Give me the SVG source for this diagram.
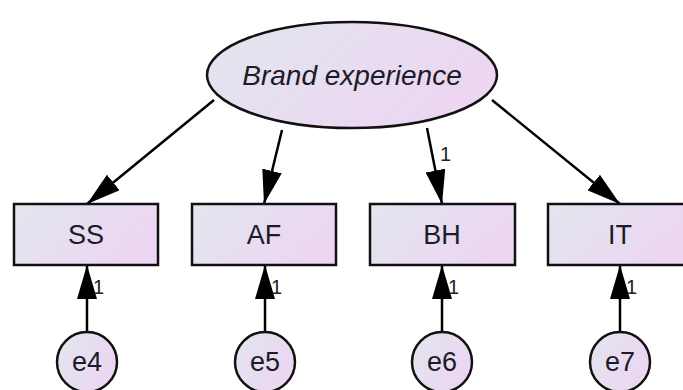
<svg xmlns="http://www.w3.org/2000/svg" width="683" height="390" viewBox="0 0 683 390">
  <defs>
    <linearGradient id="fill" x1="0" y1="0" x2="1" y2="0.4">
      <stop offset="0" stop-color="#e2e6ee"/>
      <stop offset="1" stop-color="#ecd6f2"/>
    </linearGradient>
    <marker id="head" viewBox="0 0 34 20" refX="34" refY="10" markerWidth="34" markerHeight="20" markerUnits="userSpaceOnUse" orient="auto">
      <path d="M0,0 L34,10 L0,20 Z" fill="#000"/>
    </marker>
  </defs>
  <style>
    .shape { fill: url(#fill); stroke: #111; stroke-width: 2.5; }
    .label { font-family: "Liberation Sans", Arial, sans-serif; font-size: 27px; fill: #1c1c28; text-anchor: middle; dominant-baseline: central; }
    .latent { font-style: italic; font-size: 28px; }
    .conn { stroke: #000; stroke-width: 2.5; fill: none; marker-end: url(#head); }
    .weight { font-family: "Liberation Sans", Arial, sans-serif; fill: #222; }
  </style>

  <g id="connectors">
    <line class="conn" x1="214" y1="100" x2="87" y2="204"/>
    <line class="conn" x1="282" y1="130" x2="264" y2="204"/>
    <line class="conn" x1="427" y1="128" x2="442" y2="204"/>
    <line class="conn" x1="492" y1="100" x2="620" y2="204"/>
    <line class="conn" x1="87" y1="332" x2="87" y2="265"/>
    <line class="conn" x1="265" y1="332" x2="265" y2="265"/>
    <line class="conn" x1="442" y1="332" x2="442" y2="265"/>
    <line class="conn" x1="620" y1="332" x2="620" y2="265"/>
    <g class="weight" font-size="20">
      <text x="440" y="161">1</text>
      <text x="93" y="294">1</text>
      <text x="271" y="294">1</text>
      <text x="448" y="294">1</text>
      <text x="626" y="294">1</text>
    </g>
  </g>

  <g id="brand-experience">
    <ellipse class="shape" cx="352" cy="75" rx="145" ry="53"/>
    <text class="label latent" x="352" y="75">Brand experience</text>
  </g>

  <g id="SS">
    <rect class="shape" x="14" y="204" width="144" height="61"/>
    <text class="label" x="86" y="235">SS</text>
  </g>
  <g id="AF">
    <rect class="shape" x="192" y="204" width="144" height="61"/>
    <text class="label" x="264" y="235">AF</text>
  </g>
  <g id="BH">
    <rect class="shape" x="370" y="204" width="145" height="61"/>
    <text class="label" x="442" y="235">BH</text>
  </g>
  <g id="IT">
    <rect class="shape" x="548" y="204" width="145" height="61"/>
    <text class="label" x="620" y="235">IT</text>
  </g>

  <g id="e4">
    <circle class="shape" cx="87" cy="362" r="30"/>
    <text class="label" x="87" y="362">e4</text>
  </g>
  <g id="e5">
    <circle class="shape" cx="265" cy="362" r="30"/>
    <text class="label" x="265" y="362">e5</text>
  </g>
  <g id="e6">
    <circle class="shape" cx="442" cy="362" r="30"/>
    <text class="label" x="442" y="362">e6</text>
  </g>
  <g id="e7">
    <circle class="shape" cx="620" cy="362" r="30"/>
    <text class="label" x="620" y="362">e7</text>
  </g>
</svg>
